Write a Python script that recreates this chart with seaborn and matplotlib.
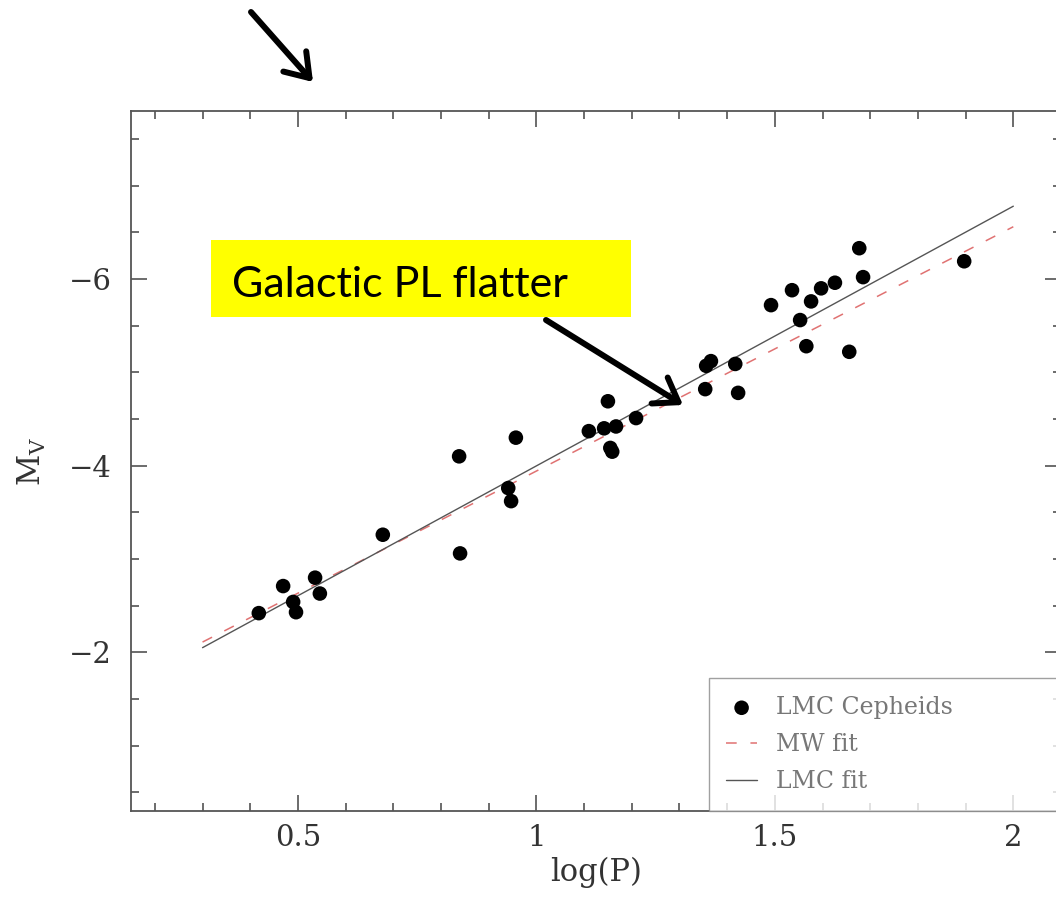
import matplotlib
matplotlib.use('Agg')
import matplotlib.pyplot as plt
import seaborn as sns
from matplotlib.patches import Rectangle
from matplotlib.ticker import MultipleLocator

# LMC Cepheids
log_p = [0.418, 0.469, 0.490, 0.496, 0.536, 0.546, 0.678, 0.838, 0.840, 0.941,
         0.947, 0.957, 1.110, 1.142, 1.150, 1.155, 1.159, 1.167, 1.209, 1.354,
         1.356, 1.366, 1.417, 1.423, 1.492, 1.536, 1.553, 1.566, 1.576, 1.597,
         1.626, 1.656, 1.677, 1.685, 1.897]
mv = [-2.42, -2.71, -2.54, -2.43, -2.80, -2.63, -3.26, -4.10, -3.06, -3.76,
      -3.62, -4.30, -4.37, -4.40, -4.69, -4.19, -4.15, -4.42, -4.51, -4.82,
      -5.07, -5.12, -5.09, -4.78, -5.72, -5.88, -5.56, -5.28, -5.76, -5.90,
      -5.96, -5.22, -6.33, -6.02, -6.19]

# fit lines (end points)
mw_fit_x = [0.3, 2.0]
mw_fit_y = [-2.11, -6.56]
lmc_fit_x = [0.3, 2.0]
lmc_fit_y = [-2.05, -6.78]

sns.set_theme(style='white')
plt.rcParams['font.family'] = ['DejaVu Serif']
plt.rcParams['mathtext.fontset'] = 'dejavuserif'

fig = plt.figure(figsize=(10.56, 8.97), dpi=100)
ax = fig.add_axes([131 / 1056, 86 / 897, 930 / 1056, 700 / 897])

sns.scatterplot(x=log_p, y=mv, color='black', s=110, edgecolor='none',
                label='LMC Cepheids', ax=ax, zorder=3)
sns.lineplot(x=mw_fit_x, y=mw_fit_y, color='#e07272', lw=1.1,
             linestyle=(0, (7, 9)), label='MW fit', ax=ax)
sns.lineplot(x=lmc_fit_x, y=lmc_fit_y, color='#555555', lw=1.0,
             label='LMC fit', ax=ax)

ax.set_xlim(0.15, 2.1)
ax.set_ylim(-0.3, -7.8)

ax.xaxis.set_major_locator(MultipleLocator(0.5))
ax.xaxis.set_minor_locator(MultipleLocator(0.1))
ax.yaxis.set_major_locator(MultipleLocator(2))
ax.yaxis.set_minor_locator(MultipleLocator(0.5))
ax.set_xticks([0.5, 1, 1.5, 2])
ax.set_xticklabels(['0.5', '1', '1.5', '2'])

ax.tick_params(which='both', direction='in', top=True, right=True,
               bottom=True, left=True, color='#444444', width=1.1)
ax.tick_params(which='major', length=11.5, labelsize=21, labelcolor='#333333')
ax.tick_params(which='minor', length=6)
ax.tick_params(axis='x', which='major', pad=9)
ax.tick_params(axis='y', which='major', pad=14)

for s in ax.spines.values():
    s.set_color('#555555')
    s.set_linewidth(1.3)

ax.set_xlabel('log(P)', fontsize=22, color='#333333')
ax.set_ylabel(r'M$_{\rm V}$', fontsize=22, color='#333333')
ax.xaxis.set_label_coords(0.5, -0.066)
ax.yaxis.set_label_coords(-0.089, 0.5)

leg = ax.legend(loc='lower left', bbox_to_anchor=(0.621, 0, 0.379, 0.2),
                mode='expand', borderaxespad=0, fontsize=17, frameon=True,
                fancybox=False, edgecolor='#888888', labelcolor='#777777',
                handlelength=1.3, handletextpad=0.8, borderpad=0.75,
                labelspacing=0.6)
leg.get_frame().set_linewidth(1.0)

# yellow call-out
fig.add_artist(Rectangle((2.11, 5.80), 4.20, 0.77, transform=fig.dpi_scale_trans,
                         facecolor='#ffff00', edgecolor='none', zorder=5))
fig.text(2.32, 6.00, 'Galactic PL flatter', transform=fig.dpi_scale_trans,
         fontsize=31, family=['Lato', 'DejaVu Sans'], color='black',
         va='baseline', ha='left', zorder=6)

arrow = dict(arrowstyle='->,head_length=0.8,head_width=0.55', lw=4.3,
             color='black', mutation_scale=20, shrinkA=0, shrinkB=0)
ax.annotate('', xy=(313, 815), xytext=(251, 885), xycoords='figure pixels',
            textcoords='figure pixels', arrowprops=arrow, annotation_clip=False)
ax.annotate('', xy=(683, 492), xytext=(546, 577), xycoords='figure pixels',
            textcoords='figure pixels', arrowprops=arrow, annotation_clip=False)

fig.savefig('out.png', dpi=100)
